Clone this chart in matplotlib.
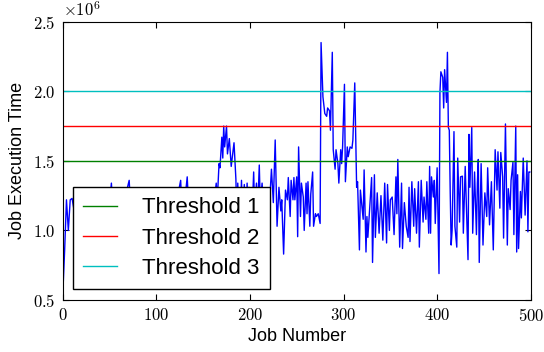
import numpy as np
import matplotlib
matplotlib.use('Agg')
import matplotlib.pyplot as plt
from matplotlib.ticker import FuncFormatter

plt.rcParams['mathtext.fontset'] = 'cm'
plt.rcParams['font.family'] = ['Liberation Sans', 'DejaVu Sans']

# job numbers and execution times (x 10^6)
jobs = [0, 2, 4, 6, 8, 10, 12, 16, 20, 24, 28, 32, 36, 40, 44, 48, 52, 54, 58, 62,
        66, 71, 73, 78, 82, 86, 90, 94, 98, 102, 106, 110, 114, 118, 122, 126, 128, 133, 135, 140,
        144, 148, 152, 156, 160, 164, 165, 167, 168, 170, 171, 172, 173, 175, 176, 178, 180, 183, 185, 186,
        187, 189, 191, 192, 194, 195, 197, 198, 199, 202, 204, 205, 207, 208, 210, 211, 213, 215, 217, 219,
        221, 223, 225, 227, 229, 231, 233, 234, 236, 238, 240, 241, 243, 244, 246, 247, 248, 250, 251, 252,
        254, 255, 257, 258, 260, 261, 262, 264, 265, 267, 268, 270, 271, 273, 275, 276, 278, 280, 282, 283,
        285, 286, 288, 289, 291, 292, 294, 295, 297, 298, 299, 301, 302, 304, 305, 307, 309, 310, 312, 314,
        315, 317, 318, 319, 321, 322, 324, 325, 326, 328, 330, 331, 333, 334, 336, 338, 340, 342, 344, 346,
        347, 349, 350, 352, 354, 356, 357, 358, 360, 362, 363, 365, 367, 369, 370, 371, 373, 375, 376, 378,
        380, 381, 383, 385, 386, 388, 389, 391, 392, 393, 394, 396, 397, 398, 400, 402, 403, 404, 406, 407,
        408, 410, 411, 412, 413, 414, 415, 416, 418, 419, 421, 422, 424, 425, 427, 428, 430, 431, 433, 434,
        435, 437, 438, 440, 442, 443, 444, 445, 447, 449, 451, 453, 454, 456, 458, 460, 462, 464, 465, 467,
        468, 470, 471, 473, 475, 476, 478, 479, 481, 482, 484, 485, 486, 487, 489, 490, 491, 492, 494, 496,
        497, 498, 499]
exec_time = [0.53, 0.85, 1.22, 1.00, 1.22, 1.23, 1.15, 1.05, 1.20, 0.95, 1.18, 1.10, 1.25, 1.00, 1.20, 1.05, 1.34, 1.10, 1.20, 0.98,
             1.22, 1.36, 1.10, 1.20, 0.95, 1.25, 1.05, 1.20, 0.90, 1.15, 1.25, 1.00, 1.20, 1.10, 1.22, 1.36, 1.05, 1.385, 1.10, 1.20,
             0.95, 1.25, 1.00, 1.20, 1.10, 1.34, 1.20, 1.48, 1.45, 1.67, 1.52, 1.75, 1.60, 1.75, 1.55, 1.66, 1.46, 1.63, 1.37, 1.10,
             1.34, 1.00, 1.36, 1.10, 1.33, 1.00, 1.34, 1.10, 1.31, 1.05, 1.42, 1.15, 1.34, 1.10, 1.47, 1.20, 1.34, 1.10, 1.25, 0.90,
             1.20, 1.44, 1.20, 1.65, 1.03, 1.31, 1.14, 1.22, 0.83, 1.29, 1.22, 1.38, 1.10, 1.36, 1.22, 1.38, 1.22, 1.385, 0.955, 1.60,
             1.10, 1.34, 1.24, 1.00, 1.34, 1.12, 1.35, 1.03, 1.26, 1.42, 1.03, 1.12, 1.10, 1.12, 1.05, 2.35, 1.96, 1.84, 1.82, 1.88,
             1.86, 1.72, 2.28, 1.58, 1.44, 1.58, 1.48, 1.34, 1.58, 1.48, 1.60, 2.05, 1.35, 1.60, 1.53, 1.60, 1.59, 1.65, 2.06, 1.31,
             1.35, 0.86, 1.29, 1.22, 1.08, 1.435, 0.845, 1.10, 0.95, 1.16, 1.38, 0.77, 1.40, 0.95, 1.27, 0.98, 1.25, 0.93, 1.34, 0.91,
             1.33, 1.00, 1.22, 1.24, 0.97, 1.385, 1.12, 1.51, 0.88, 1.34, 0.87, 1.20, 1.03, 0.95, 1.31, 0.92, 1.35, 1.03, 1.30, 0.98,
             1.35, 0.88, 1.36, 1.06, 1.24, 1.08, 1.35, 0.98, 1.46, 0.98, 1.385, 1.24, 1.36, 1.05, 1.45, 0.69, 1.99, 2.14, 2.10, 1.88,
             2.155, 1.92, 2.28, 1.74, 1.72, 1.27, 0.895, 1.00, 1.71, 1.03, 0.88, 1.52, 1.06, 1.385, 1.39, 0.98, 1.46, 1.23, 0.79, 1.69,
             1.31, 1.74, 0.98, 1.42, 0.97, 1.34, 1.51, 0.77, 1.48, 0.895, 1.27, 1.10, 1.45, 1.04, 1.35, 0.86, 1.58, 1.29, 1.565, 1.16,
             1.56, 1.385, 0.945, 1.765, 0.895, 1.30, 1.15, 1.36, 1.49, 0.97, 1.75, 0.845, 1.40, 0.87, 1.28, 1.09, 1.31, 1.52, 1.11, 1.50,
             0.99, 1.42, 1.42]

thresholds = [1.5, 1.75, 2.0]
threshold_labels = ['Threshold 1', 'Threshold 2', 'Threshold 3']
threshold_colors = ['g', 'r', 'c']

scale = 1e6

fig = plt.figure(figsize=(5.44, 3.52), dpi=100)
ax = fig.add_axes([0.1153, 0.1477, 0.8603, 0.7907])

ax.plot(jobs, np.array(exec_time) * scale, color='b', lw=1)
for t, lab, c in zip(thresholds, threshold_labels, threshold_colors):
    ax.axhline(t * scale, color=c, lw=1, label=lab)

ax.set_xlim(0, 500)
ax.set_ylim(0.5 * scale, 2.5 * scale)
ax.set_xticks([0, 100, 200, 300, 400, 500])
ax.set_yticks(np.arange(0.5, 2.51, 0.5) * scale)
ax.xaxis.set_major_formatter(FuncFormatter(lambda v, p: r'$%d$' % v))
ax.yaxis.set_major_formatter(FuncFormatter(lambda v, p: r'$%.1f$' % (v / scale)))
ax.tick_params(direction='in', top=True, right=True, length=4, labelsize=12, pad=5)
ax.text(0, 1.01, r'$\times10^{6}$', transform=ax.transAxes, fontsize=12, ha='left', va='bottom')

ax.set_xlabel('Job Number', fontsize=13, labelpad=3)
ax.set_ylabel('Job Execution Time', fontsize=13, labelpad=5)

leg = ax.legend(loc='lower left', bbox_to_anchor=(0.0226, 0.0395), borderaxespad=0,
                fontsize=16, fancybox=False, framealpha=1, edgecolor='black',
                handlelength=1.5, handletextpad=1.15, labelspacing=0.42, borderpad=0.45)
leg.get_frame().set_linewidth(1)

plt.savefig('out.png', dpi=100)
